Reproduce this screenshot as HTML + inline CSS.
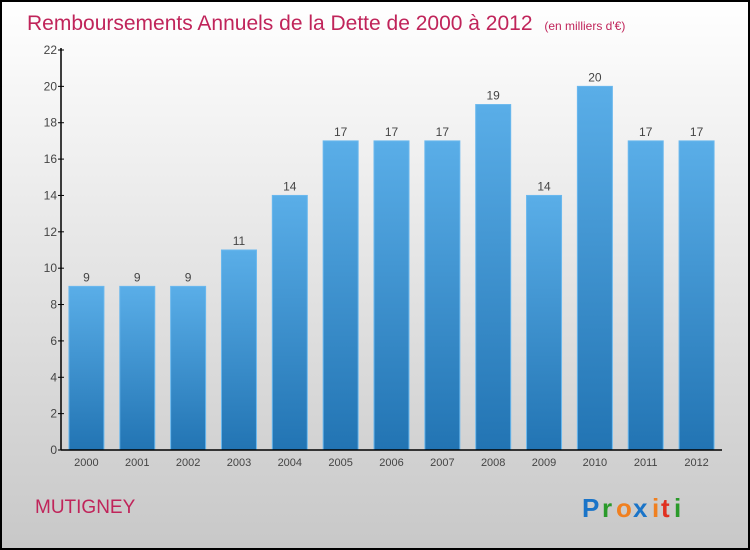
<!DOCTYPE html>
<html><head><meta charset="utf-8"><style>
body{margin:0;padding:0}
svg{display:block;font-family:"Liberation Sans",sans-serif}
</style></head><body>
<svg width="750" height="550" viewBox="0 0 750 550" xmlns="http://www.w3.org/2000/svg">
<defs>
<linearGradient id="bg" x1="0" y1="0" x2="0" y2="1"><stop offset="0" stop-color="#ffffff"/><stop offset="1" stop-color="#c8c8c8"/></linearGradient>
<linearGradient id="bar" x1="0" y1="0" x2="0" y2="1"><stop offset="0" stop-color="#5aaee8"/><stop offset="1" stop-color="#2274b3"/></linearGradient>
</defs>
<rect x="1" y="1" width="748" height="548" fill="url(#bg)" stroke="#000" stroke-width="2"/>
<text x="27" y="30" font-size="21" fill="#c0245a">Remboursements Annuels de la Dette de 2000 à 2012 <tspan font-size="12" dx="6">(en milliers d'€)</tspan></text>
<g id="plot"></g>
<text x="35" y="513" font-size="19" fill="#c0245a">MUTIGNEY</text>
<g font-size="26" font-weight="bold">
<text x="582" y="517" fill="#1a74c8">P</text><text x="602" y="517" fill="#2a9a2a">r</text><text x="616" y="517" fill="#f08020">o</text><text x="633" y="517" fill="#1a74c8">x</text><text x="652" y="517" fill="#f08020">i</text><text x="661" y="517" fill="#e03020">t</text><text x="674" y="517" fill="#2a9a2a">i</text>
</g>
</svg>
<script>
const categories=["2000","2001","2002","2003","2004","2005","2006","2007","2008","2009","2010","2011","2012"];
const values=[9,9,9,11,14,17,17,17,19,14,20,17,17];
const yTicks=[0,2,4,6,8,10,12,14,16,18,20,22];
const NS="http://www.w3.org/2000/svg";
const g=document.getElementById('plot');
const x0=61,x1=722,y0=450,y1=50,yMax=22;
const band=(x1-x0)/categories.length,bw=35;
const y=v=>y0-(v/yMax)*(y0-y1);
function mk(t,a,txt){const e=document.createElementNS(NS,t);for(const k in a)e.setAttribute(k,a[k]);if(txt!==undefined)e.textContent=txt;g.appendChild(e);return e;}
categories.forEach((c,i)=>{
 const cx=x0+band*(i+0.5);
 const r=mk('rect',{x:cx-bw/2,y:y(values[i]),width:bw,height:y0-y(values[i]),fill:'url(#bar)',stroke:'#6ab8ee','stroke-width':1});
 
 
 const l=mk('text',{x:cx,y:y(values[i])-5,'text-anchor':'middle','font-size':12,fill:'#444'},values[i]);
 
 
 const t=mk('text',{x:cx,y:y0+16,'text-anchor':'middle','font-size':11,fill:'#444'},c);
 
 
});
yTicks.forEach(v=>{
 const tk=mk('line',{x1:x0-3,x2:x0+3,y1:y(v),y2:y(v),stroke:'#000'});
 
 
 const t=mk('text',{x:x0-4,y:y(v)+4,'text-anchor':'end','font-size':12,fill:'#444'},v);
 
 
});
const ya=mk('line',{x1:x0,x2:x0,y1:y1-2,y2:y0,stroke:'#000','stroke-width':1.5});


const xa=mk('line',{x1:x0,x2:x1,y1:y0,y2:y0,stroke:'#000','stroke-width':1.5});


</script>
</body></html>
